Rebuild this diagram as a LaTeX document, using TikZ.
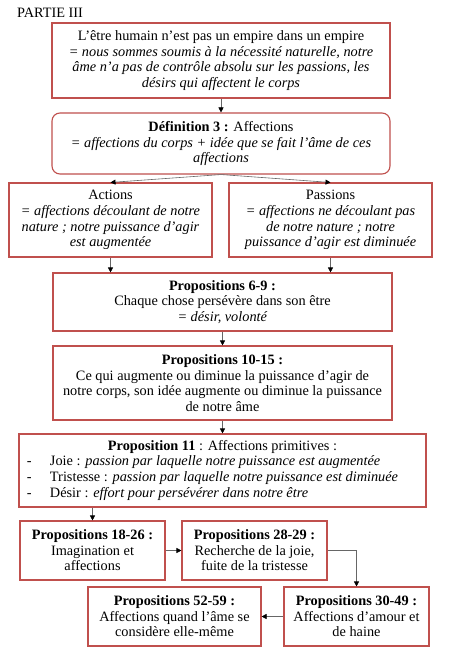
\documentclass[tikz,border=0pt]{standalone}
\usepackage{fontspec}
\setmainfont{Liberation Serif}
\usepackage{tikz}
\usetikzlibrary{arrows.meta}
\usetikzlibrary{positioning}
\usepackage{xcolor}
\definecolor{boxred}{HTML}{C0504D}
\tikzset{
    box/.style={
        draw=boxred,
        line width=1.1pt,
        rectangle,
        fill=white,
        align=center,
        inner sep=2pt,
        font=\fontsize{14.3}{15.6}\selectfont
    },
    link/.style={
        draw=gray!80!black,
        line width=0.6pt,
        -{Triangle[length=5pt, width=5pt, color=black]}
    }
}

\begin{document}
\begin{tikzpicture}[x=1pt, y=-1pt]
    \useasboundingbox (0,0) rectangle (454,666);
    % Title
    \node[font=\fontsize{14.3}{15.6}\selectfont, anchor=base west, inner sep=0pt] (partie) at (17,17.5) {PARTIE III};

    % Boxes
    \node[box, minimum width=338pt, minimum height=75pt] (etre) at (221,60.5)
        {L’être humain n’est pas un empire dans un empire\\
         \emph{= nous sommes soumis à la nécessité naturelle, notre}\\
         \emph{âme n’a pas de contrôle absolu sur les passions, les}\\
         \emph{désirs qui affectent le corps}};
    \node[box, rounded corners=8pt, minimum width=338pt, minimum height=61pt] (defin) at (221,143.5)
        {\textbf{Définition 3 :} Affections\\
         \emph{= affections du corps + idée que se fait l’âme de ces}\\
         \emph{affections}};
    \node[box, minimum width=203pt, minimum height=74pt] (actions) at (110.5,220)
        {Actions\\
         \emph{= affections découlant de notre}\\
         \emph{nature ; notre puissance d’agir}\\
         \emph{est augmentée}};
    \node[box, minimum width=203pt, minimum height=74pt] (passions) at (330.5,220)
        {Passions\\
         \emph{= affections ne découlant pas}\\
         \emph{de notre nature ; notre}\\
         \emph{puissance d’agir est diminuée}};
    \node[box, minimum width=339pt, minimum height=58pt] (prop69) at (222.5,302)
        {\textbf{Propositions 6-9 :}\\
         Chaque chose persévère dans son être\\
         \emph{= désir, volonté}};
    \node[box, minimum width=339pt, minimum height=74pt] (prop1015) at (222.5,383)
        {\textbf{Propositions 10-15 :}\\
         Ce qui augmente ou diminue la puissance d’agir de\\
         notre corps, son idée augmente ou diminue la puissance\\
         de notre âme};
    \node[box, minimum width=407pt, minimum height=73pt] (prop11) at (222.5,470.5)
        {\begin{tabular}{@{}p{23pt}@{}p{368pt}@{}}
         \multicolumn{2}{@{}c@{}}{\textbf{Proposition 11} : Affections primitives :}\\
         - & Joie : \emph{passion par laquelle notre puissance est augmentée}\\
         - & Tristesse : \emph{passion par laquelle notre puissance est diminuée}\\
         - & Désir : \emph{effort pour persévérer dans notre être}
         \end{tabular}};
    \node[box, minimum width=145pt, minimum height=59pt] (prop1826) at (92.5,550.5)
        {\textbf{Propositions 18-26 :}\\
         Imagination et\\
         affections};
    \node[box, minimum width=145pt, minimum height=59pt] (prop2829) at (254.5,550.5)
        {\textbf{Propositions 28-29 :}\\
         Recherche de la joie,\\
         fuite de la tristesse};
    \node[box, minimum width=145pt, minimum height=59pt] (prop3049) at (356.5,616.5)
        {\textbf{Propositions 30-49 :}\\
         Affections d’amour et\\
         de haine};
    \node[box, minimum width=173pt, minimum height=59pt] (prop5259) at (174.5,616.5)
        {\textbf{Propositions 52-59 :}\\
         Affections quand l’âme se\\
         considère elle-même};

    % Arrows
    \draw[link] (etre) -- (defin);
    \draw[link] (defin.south) -- (actions.north);
    \draw[link] (defin.south) -- (passions.north);
    \draw[link] (actions.south) -- (actions.south |- prop69.north);
    \draw[link] (passions.south) -- (passions.south |- prop69.north);
    \draw[link] (prop69) -- (prop1015);
    \draw[link] (prop1015) -- (prop11);
    \draw[link] (prop11.south -| prop1826.north) -- (prop1826.north);
    \draw[link] (prop1826) -- (prop2829);
    \draw[link] (prop2829.east) -| (prop3049.north);
    \draw[link] (prop3049) -- (prop5259);
\end{tikzpicture}
\end{document}
